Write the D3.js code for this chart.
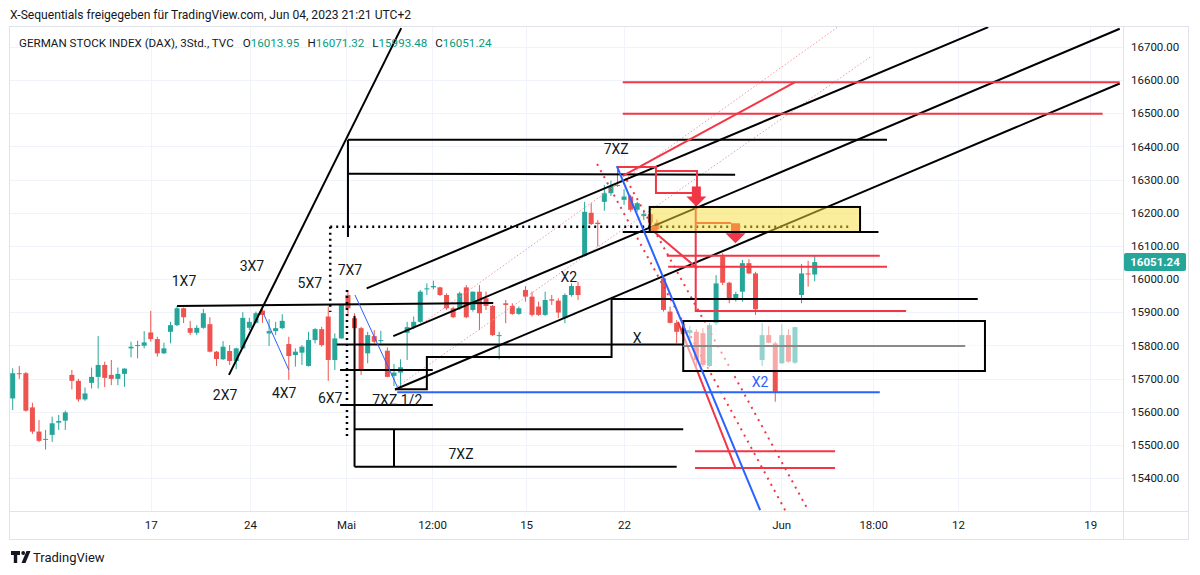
<!DOCTYPE html>
<html>
<head>
<meta charset="utf-8">
<script src="https://cdn.jsdelivr.net/npm/d3@7"></script>
<style>
  body { margin: 0; background: #fff; }
  text { font-family: Roboto, "Liberation Sans", sans-serif; }
</style>
</head>
<body>
<svg id="chart" width="1200" height="575"></svg>
<script>
// 3h candles, DAX (TVC)
const opens = [15640,15716,15716,15613,15540,15515,15530,15567,15573,15711,15693,15637,15687,15705,15741,15711,15699,15714,15791,15798,
  15799,15839,15819,15776,15841,15861,15912,15852,15838,15853,15864,15781,15758,15783,15753,15791,15853,15868,15905,15836,
  15843,15852,15804,15771,15778,15738,15816,15849,15887,15756,15821,15952,15882,15852,15776,15828,15813,15784,15708,15718,
  15838,15855,15871,15969,15975,15975,15952,15912,15912,15975,15907,15962,15942,15919,15828,15927,15919,15895,15967,15947,
  15917,15892,15939,15935,15882,15952,15979,16070,16200,16170,16233,16259,16284,16239,16249,16209,16190,16196,16170,16002,
  15902,15868,15852,15837,15841,15837,15738,15867,16068,15989,15939,15962,16048,16017,15756,15831,15806,15746,15831,15748,
  15952,16017,16013.95];
const highs = [15731,15738,15720,15627,15575,15545,15585,15590,15603,15726,15699,15673,15733,15828,15751,15756,15733,15731,15811,15814,
  15843,15904,15826,15808,15871,15919,15914,15874,15861,15910,15885,15783,15813,15801,15793,15900,15883,15902,15910,15879,
  15871,15894,15826,15791,15801,15841,15852,15856,15917,15836,15925,15967,15897,15856,15841,15846,15844,15794,15744,15758,
  15871,15887,15967,15987,15995,15977,15957,15917,15962,15982,15962,15982,15962,15922,15841,15937,15927,15917,15979,15962,
  15932,15962,15952,15942,15957,15987,15992,16233,16229,16178,16284,16297,16330,16271,16254,16233,16209,16200,16180,16007,
  15917,15876,15867,15858,15849,15852,15867,16012,16078,15992,15962,16058,16060,16022,15867,15858,15811,15864,15849,15856,
  16045,16055,16071.32];
const lows = [15605,15699,15600,15533,15508,15486,15509,15545,15545,15667,15630,15633,15670,15670,15674,15680,15680,15675,15764,15761,
  15791,15811,15766,15774,15806,15858,15867,15831,15831,15850,15779,15738,15756,15741,15728,15789,15846,15866,15868,15798,
  15831,15849,15696,15736,15741,15736,15806,15796,15693,15726,15819,15887,15846,15711,15746,15806,15806,15704,15677,15675,
  15756,15849,15868,15952,15969,15949,15907,15882,15907,15882,15902,15846,15907,15828,15758,15867,15892,15892,15932,15887,
  15889,15889,15922,15882,15867,15947,15937,16068,16163,16098,16206,16251,16278,16224,16203,16203,16178,16160,16140,15902,
  15866,15806,15806,15816,15738,15735,15735,15861,15982,15927,15932,15932,16015,15892,15738,15806,15630,15744,15748,15744,
  15927,15977,15993.48];
const closes = [15716,15713,15603,15540,15512,15518,15565,15572,15598,15693,15637,15655,15705,15741,15702,15699,15714,15730,15796,15801,
  15809,15819,15776,15791,15861,15912,15885,15838,15853,15897,15781,15759,15796,15753,15791,15883,15871,15897,15892,15843,
  15852,15874,15768,15781,15796,15816,15849,15801,15756,15821,15922,15912,15852,15726,15831,15811,15816,15705,15718,15734,
  15855,15871,15962,15972,15979,15952,15912,15885,15957,15885,15962,15897,15919,15831,15831,15922,15895,15912,15947,15892,
  15892,15937,15935,15899,15952,15979,15952,16203,16166,16166,16259,16281,16281,16249,16209,16229,16196,16170,16150,15907,
  15868,15841,15834,15846,15756,15741,15861,15987,15989,15939,15955,16048,16017,15909,15831,15808,15660,15831,15751,15855,
  16017,16014,16051.24];

const priceTicks = d3.range(15400, 16701, 100);
// time axis labels and the bar index they sit on
const timeLabels = ["17", "24", "Mai", "12:00", "15", "22", "Jun", "18:00", "12", "19"];
const timeIndex = [21.0, 36.1, 50.7, 63.8, 78.1, 93.0, 116.9, 130.9, 143.8, 163.9];

// drawings, points as [bar index, price]
const blackLines = [
  [[32.9, 15711], [59.1, 16757]],
  [[25.0, 15919], [73.1, 15928]],
  [[51.0, 16420], [133.0, 16420]],
  [[51.0, 16318], [109.9, 16315]],
  [[51.0, 16420], [51.0, 16127]],
  [[49.3, 15803], [102, 15803]],
  [[58.2, 15668], [63.0, 15668], [63.0, 15765], [91.1, 15765], [91.1, 15940], [146.8, 15940]],
  [[53.85, 15972], [148.4, 16760]],
  [[57.9, 15828], [168.4, 16755]],
  [[58.15, 15667], [168.4, 16590]],
  [[49.8, 15726], [63.9, 15726]],
  [[49.8, 15620], [63.9, 15620]],
  [[52.0, 15547], [102, 15547]],
  [[52.0, 15434], [101, 15434]],
  [[58.0, 15547], [58.0, 15434]],
  [[52.0, 15889], [52.0, 15434]],
  [[92.8, 16142], [131.7, 16142]]
];
const dottedBlack = [
  [[48.3, 16158], [127.1, 16158]],
  [[48.3, 16158], [48.3, 15901]],
  [[50.85, 15967], [50.85, 15515]]
];
const redLines = [
  [[92.8, 16594], [168.4, 16594]],
  [[92.8, 16499], [165.8, 16499]],
  [[92.8, 16311], [119.0, 16594]],
  [[91.9, 16338], [97.85, 16338], [97.85, 16260], [103.9, 16260], [103.9, 15904], [135.9, 15904]],
  [[97.85, 16326], [104.1, 16326], [104.1, 16275]],
  [[103.9, 16169], [109.3, 16169]],
  [[97.25, 16148], [104.1, 16033]],
  [[101.2, 15871], [109.9, 15433]],
  [[99.5, 16070], [131.9, 16070]],
  [[99.7, 16037], [133.0, 16037]],
  [[103.8, 15481], [125.1, 15481]],
  [[103.8, 15430], [125.1, 15430]]
];
const redDotted = [
  [[88.9, 16347], [117.5, 15303]],
  [[93.4, 16299], [121.0, 15303]]
];
const faintLines = [
  [[61.96, 15861], [125.5, 16760]],
  [[58.6, 15677], [130.7, 16673]]
];
const blueThick = [
  [[91.9, 16341], [113.7, 15303]],
  [[58.5, 15659], [131.9, 15659]]
];
const blueThin = [
  [[52.07, 15952], [58.6, 15671]],
  [[38.1, 15898], [42.0, 15726]]
];
const arrowTips = [[104.0, 16219], [109.95, 16108]];
const redMarker = [97.55, 16151];
const yellowBox = [[96.9, 16217.5], [128.9, 16142]];
const fadedBox = [[102, 15873.5], [147.9, 15722.7]];
const grayLine = [[102, 15798], [144.9, 15798]];
const labels = [
  ["1X7", 26.06, 15994], ["3X7", 36.4, 16039], ["5X7", 45.2, 15988], ["7X7", 51.3, 16027],
  ["2X7", 32.3, 15650], ["4X7", 41.3, 15656], ["6X7", 48.3, 15641], ["7XZ 1/2", 58.5, 15635],
  ["7XZ", 91.8, 16392], ["X2", 84.6, 16006], ["X", 95.0, 15822], ["7XZ", 68.2, 15472]
];
const blueLabels = [["X2", 113.7, 15689]];

const pane = {left: 10, right: 1123, top: 27, bottom: 511, axisBottom: 540, outerRight: 1189};
const green = "#26a69a", red = "#ef5350", lineRed = "#f23645", blue = "#2962ff";

const x = d3.scaleLinear().domain([0, 122]).range([12.7, 814.7]);
const y = d3.scaleLinear().domain([15400, 16700]).range([478, 47]);

const svg = d3.select("#chart");
svg.append("defs").append("clipPath").attr("id", "pane")
  .append("rect")
    .attr("x", pane.left).attr("y", pane.top)
    .attr("width", pane.right - pane.left).attr("height", pane.bottom - pane.top);

// grid
const grid = svg.append("g").attr("stroke", "#f0f3fa").attr("stroke-width", 1);
grid.selectAll(".hg").data(priceTicks).enter().append("line")
    .attr("x1", pane.left).attr("x2", pane.right)
    .attr("y1", d => Math.round(y(d)) + 0.5).attr("y2", d => Math.round(y(d)) + 0.5);
grid.selectAll(".vg").data(timeIndex).enter().append("line")
    .attr("y1", pane.top).attr("y2", pane.bottom)
    .attr("x1", d => Math.round(x(d)) + 0.5).attr("x2", d => Math.round(x(d)) + 0.5);

const plot = svg.append("g").attr("clip-path", "url(#pane)");

// candles
const candles = plot.append("g").selectAll("g")
  .data(opens.map((o, i) => ({i, o, h: highs[i], l: lows[i], c: closes[i]})))
  .enter().append("g");
candles.append("line")
    .attr("x1", d => x(d.i)).attr("x2", d => x(d.i))
    .attr("y1", d => y(d.h)).attr("y2", d => y(d.l))
    .attr("stroke", d => d.c >= d.o ? green : red).attr("stroke-width", 1);
candles.append("rect")
    .attr("x", d => x(d.i) - 2.5).attr("width", 5)
    .attr("y", d => y(Math.max(d.o, d.c)))
    .attr("height", d => Math.max(1, Math.abs(y(d.o) - y(d.c))))
    .attr("fill", d => d.c >= d.o ? green : red);

const line = d3.line().x(d => x(d[0])).y(d => y(d[1]));

function drawPaths(data, stroke, width, dash) {
  plot.append("g").selectAll("path").data(data).enter().append("path")
      .attr("d", line)
      .attr("fill", "none")
      .attr("stroke", stroke)
      .attr("stroke-width", width)
      .attr("stroke-dasharray", dash || null);
}

drawPaths(faintLines, "#f59aa2", 1, "1.5,2");
drawPaths(redDotted, lineRed, 2, "2,5");
drawPaths(dottedBlack, "#000", 2.5, "2,4");
drawPaths(blackLines, "#000", 2);
drawPaths(redLines, lineRed, 2);

// arrows, fixed pixel size anchored on their tip
plot.append("g").selectAll("path").data(arrowTips).enter().append("path")
    .attr("d", d => {
      const cx = x(d[0]), cy = y(d[1]);
      return `M${cx - 4.5},${cy - 20}h9v10h5.5l-10,10l-10,-10h5.5z`;
    })
    .attr("fill", lineRed);
plot.append("circle")
    .attr("cx", x(redMarker[0])).attr("cy", y(redMarker[1])).attr("r", 3.5)
    .attr("fill", lineRed);

// yellow box
plot.append("rect")
    .attr("x", x(yellowBox[0][0])).attr("y", y(yellowBox[0][1]))
    .attr("width", x(yellowBox[1][0]) - x(yellowBox[0][0]))
    .attr("height", y(yellowBox[1][1]) - y(yellowBox[0][1]))
    .attr("fill", "rgba(245,222,60,0.5)")
    .attr("stroke", "#000").attr("stroke-width", 2);

// faded box
plot.append("rect")
    .attr("x", x(fadedBox[0][0])).attr("y", y(fadedBox[0][1]))
    .attr("width", x(fadedBox[1][0]) - x(fadedBox[0][0]))
    .attr("height", y(fadedBox[1][1]) - y(fadedBox[0][1]))
    .attr("fill", "rgba(255,255,255,0.5)")
    .attr("stroke", "#000").attr("stroke-width", 2);
plot.append("path").attr("d", line(grayLine))
    .attr("stroke", "#8a8a8a").attr("stroke-width", 2).attr("fill", "none");

drawPaths(blueThin, blue, 1);
drawPaths(blueThick, blue, 2);

// labels
plot.append("g").selectAll("text").data(labels).enter().append("text")
    .attr("x", d => x(d[1])).attr("y", d => y(d[2]))
    .attr("text-anchor", "middle").attr("dominant-baseline", "central")
    .attr("font-size", 14).attr("fill", "#131722")
    .text(d => d[0]);
plot.append("g").selectAll("text").data(blueLabels).enter().append("text")
    .attr("x", d => x(d[1])).attr("y", d => y(d[2]))
    .attr("text-anchor", "middle").attr("dominant-baseline", "central")
    .attr("font-size", 14).attr("fill", blue)
    .text(d => d[0]);

// frame
const frame = svg.append("g").attr("stroke", "#e0e3eb").attr("stroke-width", 1).attr("fill", "none");
frame.append("rect").attr("x", pane.left - 0.5).attr("y", pane.top - 0.5)
    .attr("width", pane.outerRight - pane.left).attr("height", pane.axisBottom - pane.top);
frame.append("line").attr("x1", pane.right + 0.5).attr("x2", pane.right + 0.5)
    .attr("y1", pane.top).attr("y2", pane.axisBottom);
frame.append("line").attr("x1", pane.left).attr("x2", pane.outerRight)
    .attr("y1", pane.bottom + 0.5).attr("y2", pane.bottom + 0.5);

// price axis
const yAxis = d3.axisRight(y).tickValues(priceTicks).tickSize(0).tickPadding(0)
    .tickFormat(d => d.toFixed(2));
svg.append("g").attr("transform", `translate(${pane.right + 8},0)`).call(yAxis)
    .call(g => g.select(".domain").remove())
    .call(g => g.selectAll("text").attr("font-size", 11.5).attr("fill", "#131722")
      .style("font-family", "Roboto, sans-serif"));

// time axis
const xAxis = d3.axisBottom(x).tickValues(timeIndex).tickSize(0).tickPadding(0)
    .tickFormat((d, i) => timeLabels[i]);
svg.append("g").attr("transform", `translate(0,${pane.bottom + 10})`).call(xAxis)
    .call(g => g.select(".domain").remove())
    .call(g => g.selectAll("text").attr("font-size", 11.5).attr("fill", "#131722")
      .style("font-family", "Roboto, sans-serif"));

// last price label
const last = closes.length - 1;
svg.append("rect")
    .attr("x", pane.right + 1).attr("y", y(closes[last]) - 9)
    .attr("width", 62).attr("height", 18).attr("rx", 2)
    .attr("fill", green);
svg.append("text")
    .attr("x", pane.right + 32).attr("y", y(closes[last]))
    .attr("text-anchor", "middle").attr("dominant-baseline", "central")
    .attr("font-size", 11.5).attr("font-weight", 700).attr("fill", "#fff")
    .text(closes[last].toFixed(2));

// header
svg.append("text").attr("x", 10).attr("y", 19)
    .attr("font-size", 12.1).attr("fill", "#131722")
    .text("X-Sequentials freigegeben für TradingView.com, Jun 04, 2023 21:21 UTC+2");

const legend = svg.append("text").attr("x", 19).attr("y", 47)
    .attr("font-size", 11.6).attr("fill", "#131722");
legend.append("tspan").text("GERMAN STOCK INDEX (DAX), 3Std., TVC");
[["O", opens[last]], ["H", highs[last]], ["L", lows[last]], ["C", closes[last]]].forEach((d, k) => {
  legend.append("tspan").attr("dx", k === 0 ? 9 : 8).text(d[0]);
  legend.append("tspan").attr("fill", "#089981").text(d[1].toFixed(2));
});

// footer logo
const logo = svg.append("g").attr("fill", "#131722");
logo.append("path").attr("d", "M11,551h9v4h-2.8v8h-3.4v-8h-2.8z");
logo.append("circle").attr("cx", 23.2).attr("cy", 553).attr("r", 1.9);
logo.append("path").attr("d", "M26.5,551h4l-5,12h-4z");
svg.append("text").attr("x", 33).attr("y", 562)
    .attr("font-size", 13).attr("fill", "#131722")
    .text("TradingView");
</script>
</body>
</html>
